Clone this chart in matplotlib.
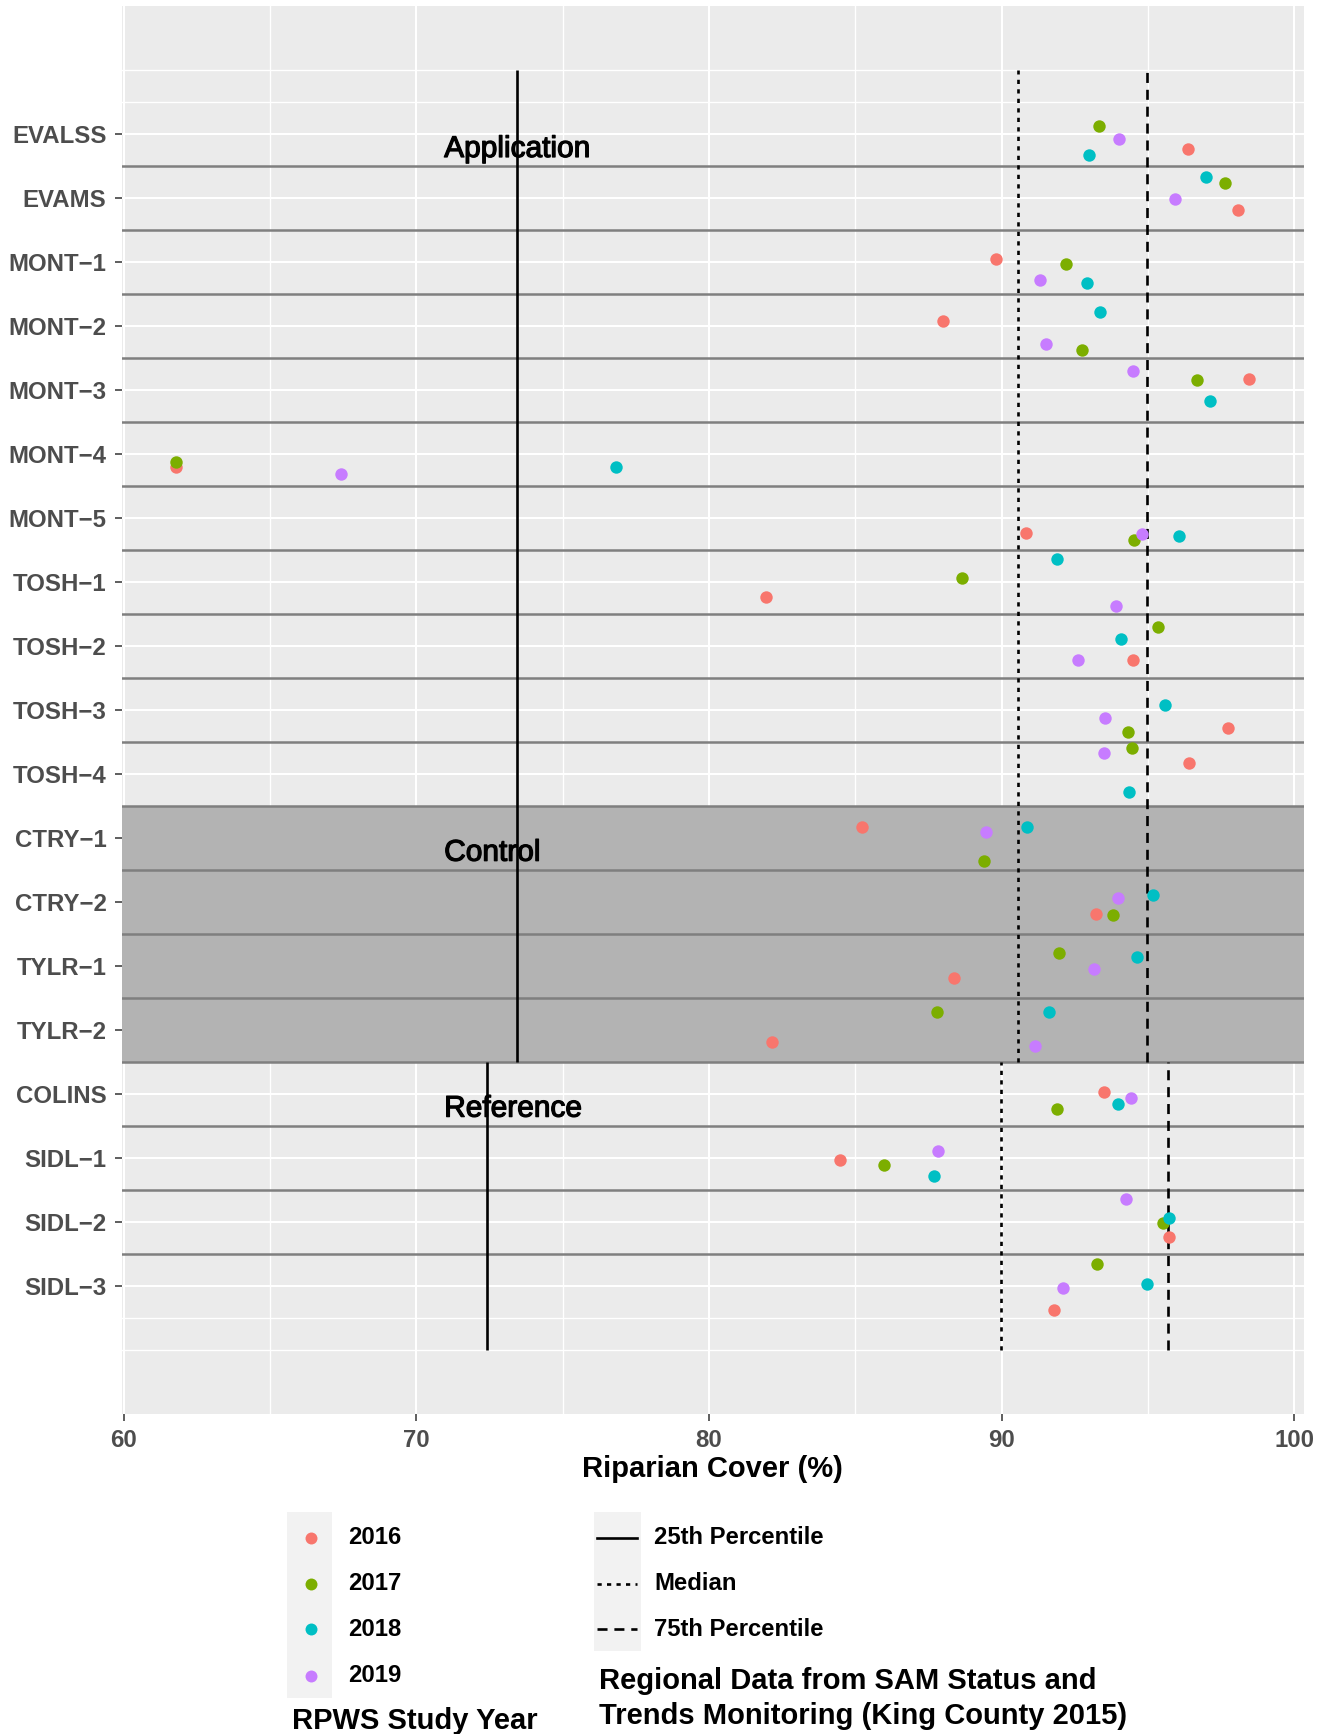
import matplotlib
matplotlib.use("Agg")
import matplotlib.pyplot as plt
import matplotlib.patheffects as pe
from matplotlib.lines import Line2D
from matplotlib.patches import Rectangle
import numpy as np

plt.rcParams['font.family'] = ['Liberation Sans', 'DejaVu Sans']

# sites, top to bottom
sites = ["EVALSS", "EVAMS", "MONT\u22121", "MONT\u22122", "MONT\u22123", "MONT\u22124",
         "MONT\u22125", "TOSH\u22121", "TOSH\u22122", "TOSH\u22123", "TOSH\u22124",
         "CTRY\u22121", "CTRY\u22122", "TYLR\u22121", "TYLR\u22122", "COLINS",
         "SIDL\u22121", "SIDL\u22122", "SIDL\u22123"]

years = ["2016", "2017", "2018", "2019"]
year_colors = ["#F8766D", "#7CAE00", "#00BFC4", "#C77CFF"]

# riparian cover (%) per site and year
cover_2016 = [96.37, 98.09, 89.79, 88.01, 98.46, 61.80, 90.83, 81.95, 94.50, 97.75,
              96.40, 85.21, 93.21, 88.37, 82.16, 93.50, 84.47, 95.71, 91.80]
cover_2017 = [93.33, 97.62, 92.21, 92.73, 96.67, 61.80, 94.52, 88.63, 95.33, 94.32,
              94.46, 89.39, 93.79, 91.97, 87.79, 91.90, 85.98, 95.51, 93.25]
cover_2018 = [93.00, 96.98, 92.91, 93.36, 97.13, 76.83, 96.06, 91.90, 94.09, 95.59,
              94.34, 90.86, 95.18, 94.64, 91.63, 93.99, 87.67, 95.71, 94.96]
cover_2019 = [94.02, 95.92, 91.31, 91.51, 94.47, 67.44, 94.79, 93.90, 92.61, 93.53,
              93.51, 89.46, 93.99, 93.17, 91.13, 94.42, 87.81, 94.25, 92.09]

# vertical jitter as drawn (row units, + = below the site line)
jitter_2016 = [0.23, 0.19, -0.05, -0.07, -0.17, 0.21, 0.24, 0.23, 0.22, 0.28,
               -0.16, -0.16, 0.19, 0.20, 0.20, -0.02, 0.04, 0.24, 0.38]
jitter_2017 = [-0.12, -0.23, 0.04, 0.38, -0.15, 0.13, 0.35, -0.06, -0.30, 0.34,
               -0.40, 0.36, 0.21, -0.20, -0.28, 0.24, 0.11, 0.03, -0.33]
jitter_2018 = [0.33, -0.33, 0.33, -0.21, 0.18, 0.21, 0.29, -0.36, -0.11, -0.07,
               0.29, -0.17, -0.11, -0.14, -0.27, 0.17, 0.29, -0.05, -0.02]
jitter_2019 = [0.08, 0.01, 0.29, 0.29, -0.30, 0.32, 0.26, 0.38, 0.22, 0.13,
               -0.33, -0.09, -0.06, 0.06, 0.25, 0.07, -0.10, -0.36, 0.04]

# regional percentiles (King County 2015): application/control rows, reference rows
pct_labels = ["25th Percentile", "Median", "75th Percentile"]
pct_25 = [73.44, 72.41]
pct_50 = [90.56, 89.98]
pct_75 = [94.98, 95.68]
pct_span = [(4.5, 20), (0, 4.5)]

groups = ["Application", "Control", "Reference"]
group_rows = ["EVALSS", "CTRY\u22121", "COLINS"]

covers = [cover_2016, cover_2017, cover_2018, cover_2019]
jitters = [jitter_2016, jitter_2017, jitter_2018, jitter_2019]

W, H = 1331, 1734
fig = plt.figure(figsize=(W / 100, H / 100), dpi=100)

def fx(px):
    return px / W

def fy(py):
    return 1 - py / H

ax = fig.add_axes([fx(121.7), fy(1413.5), fx(1304) - fx(121.7), fy(6) - fy(1413.5)])
ax.set_facecolor("#EBEBEB")
for s in ax.spines.values():
    s.set_visible(False)

n = len(sites)
ypos = np.arange(n, 0, -1)  # EVALSS at top

ax.set_xlim(59.93, 100.33)
ax.set_ylim(-1, 21)
ax.set_xticks([60, 70, 80, 90, 100])
ax.set_xticks([65, 75, 85, 95], minor=True)
ax.set_yticks(ypos)
ax.set_yticklabels(sites)
ax.set_yticks([0, 0.5, 19.5, 20], minor=True)
ax.grid(which='major', color='white', lw=1.5)
ax.grid(which='minor', color='white', lw=0.95)
ax.set_axisbelow(True)
ax.tick_params(which='major', length=5, width=1.1, color='#333333',
               labelsize=17.3, labelcolor='#4D4D4D', pad=6)
ax.tick_params(which='minor', length=0)
for lab in ax.get_xticklabels() + ax.get_yticklabels():
    lab.set_fontweight('bold')

# control block and row separators
ax.axhspan(4.5, 8.5, color='#B3B3B3', lw=0, zorder=1.5)
for yb in np.arange(1.5, n, 1.0):
    ax.axhline(yb, color='#7F7F7F', lw=1.8, zorder=2)

# percentile segments
dotted = (0, (1.6, 2.0))
dashed = (0, (3.8, 2.6))
styles = ['solid', dotted, dashed]
for k in range(2):
    y0, y1 = pct_span[k]
    for val, ls in zip([pct_25[k], pct_50[k], pct_75[k]], styles):
        ax.vlines(val, y0, y1, colors='black', linestyles=ls, lw=1.9, zorder=3)

# points
for cov, jit, col in zip(covers, jitters, year_colors):
    ax.scatter(cov, ypos - np.array(jit), s=80, color=col, lw=0, zorder=4)

# group annotations
heavy = [pe.withStroke(linewidth=0.9, foreground='black')]
for g, row in zip(groups, group_rows):
    yr = ypos[sites.index(row)]
    ax.text(70.95, yr - 0.36, g, fontsize=21.5, color='black', ha='left',
            va='baseline', zorder=5, path_effects=heavy)

fig.text(fx(712.8), fy(1469), "Riparian Cover (%)", fontsize=21, fontweight='bold',
         ha='center', va='center')

# legends (drawn on an overlay in pixel coordinates)
lax = fig.add_axes([0, 0, 1, 1])
lax.set_xlim(0, W)
lax.set_ylim(H, 0)
lax.axis('off')

row_y = [1537.5, 1583.5, 1629, 1675.5]
lax.add_patch(Rectangle((287.4, 1512.3), 44.3, 185.7, color='#F2F2F2', lw=0))
for yy, lab, col in zip(row_y, years, year_colors):
    lax.plot([310.6], [yy], 'o', ms=8.6, color=col, mec='none')
    lax.text(348.2, yy, lab, fontsize=17.2, fontweight='bold', va='center', ha='left')
lax.text(291.9, 1729, "RPWS Study Year", fontsize=21.0, fontweight='bold',
         va='baseline', ha='left')

lax.add_patch(Rectangle((593.6, 1512.3), 47.6, 138.2, color='#F2F2F2', lw=0))
for yy, lab, ls in zip(row_y[:3], pct_labels, styles):
    lax.add_line(Line2D([597, 636.8], [yy, yy], color='black', lw=1.9, linestyle=ls))
    lax.text(654.5, yy, lab, fontsize=17.2, fontweight='bold', va='center', ha='left')
lax.text(599, 1689, "Regional Data from SAM Status and", fontsize=21.0,
         fontweight='bold', va='baseline', ha='left')
lax.text(599, 1724, "Trends Monitoring (King County 2015)", fontsize=21.0,
         fontweight='bold', va='baseline', ha='left')

fig.savefig("out.png", dpi=100)
